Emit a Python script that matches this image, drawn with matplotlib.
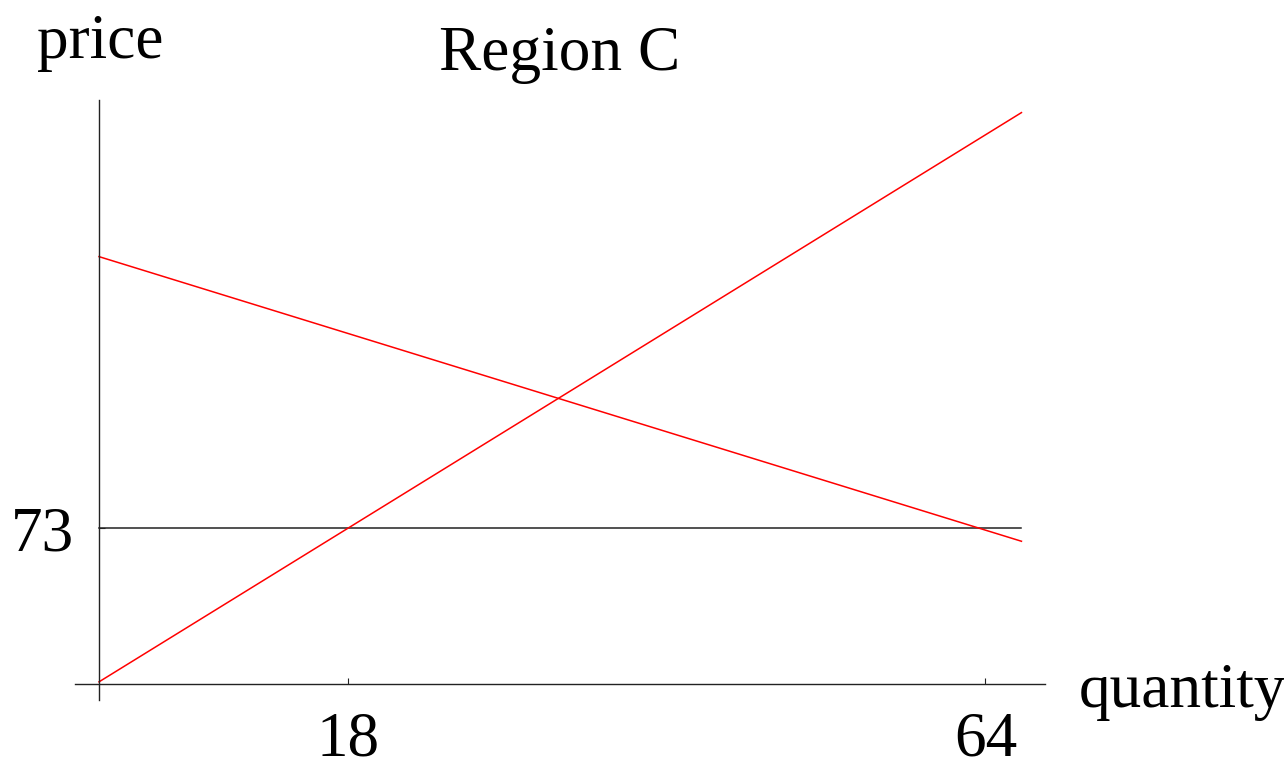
import matplotlib
matplotlib.use('Agg')
import matplotlib.pyplot as plt

# data
quantity = [0, 66.6]
supply = [1, 267.4]
demand = [200, 66.8]
floor_price = 73
x_ticks = [18, 64]
y_ticks = [73]

W, H = 1284, 760
plt.rcParams['font.family'] = ['Liberation Serif', 'DejaVu Serif']
fs = 45.5

fig = plt.figure(figsize=(W / 100, H / 100), dpi=100)
# axes box in pixels: x 75..1045, y 100..700
ax = fig.add_axes([75 / W, 1 - 700 / H, (1045 - 75) / W, 600 / H])
ax.set_xlim(-1.733, 68.30)
ax.set_ylim(-7.49, 273.3)

ax.plot(quantity, [floor_price, floor_price], color='#222222', lw=1.1)
ax.plot(quantity, supply, color='red', lw=1.1)
ax.plot(quantity, demand, color='red', lw=1.1)

for side in ['top', 'right']:
    ax.spines[side].set_visible(False)
ax.spines['left'].set_position(('data', 0))
ax.spines['bottom'].set_position(('data', 0))
for side in ['left', 'bottom']:
    ax.spines[side].set_color('#222222')
    ax.spines[side].set_linewidth(1.0)

ax.set_xticks(x_ticks)
ax.set_yticks(y_ticks)
ax.tick_params(direction='in', length=4, width=0.8, color='#222222', labelsize=fs)
ax.tick_params(axis='x', pad=20)
ax.tick_params(axis='y', pad=18)
ax.patch.set_visible(False)

fig.text(37 / W, 1 - 58 / H, 'price', fontsize=fs, ha='left', va='baseline')
fig.text(560 / W, 1 - 70 / H, 'Region C', fontsize=fs, ha='center', va='baseline')
fig.text(1079 / W, 1 - 707 / H, 'quantity', fontsize=fs, ha='left', va='baseline')

fig.savefig('out.png', dpi=100)
